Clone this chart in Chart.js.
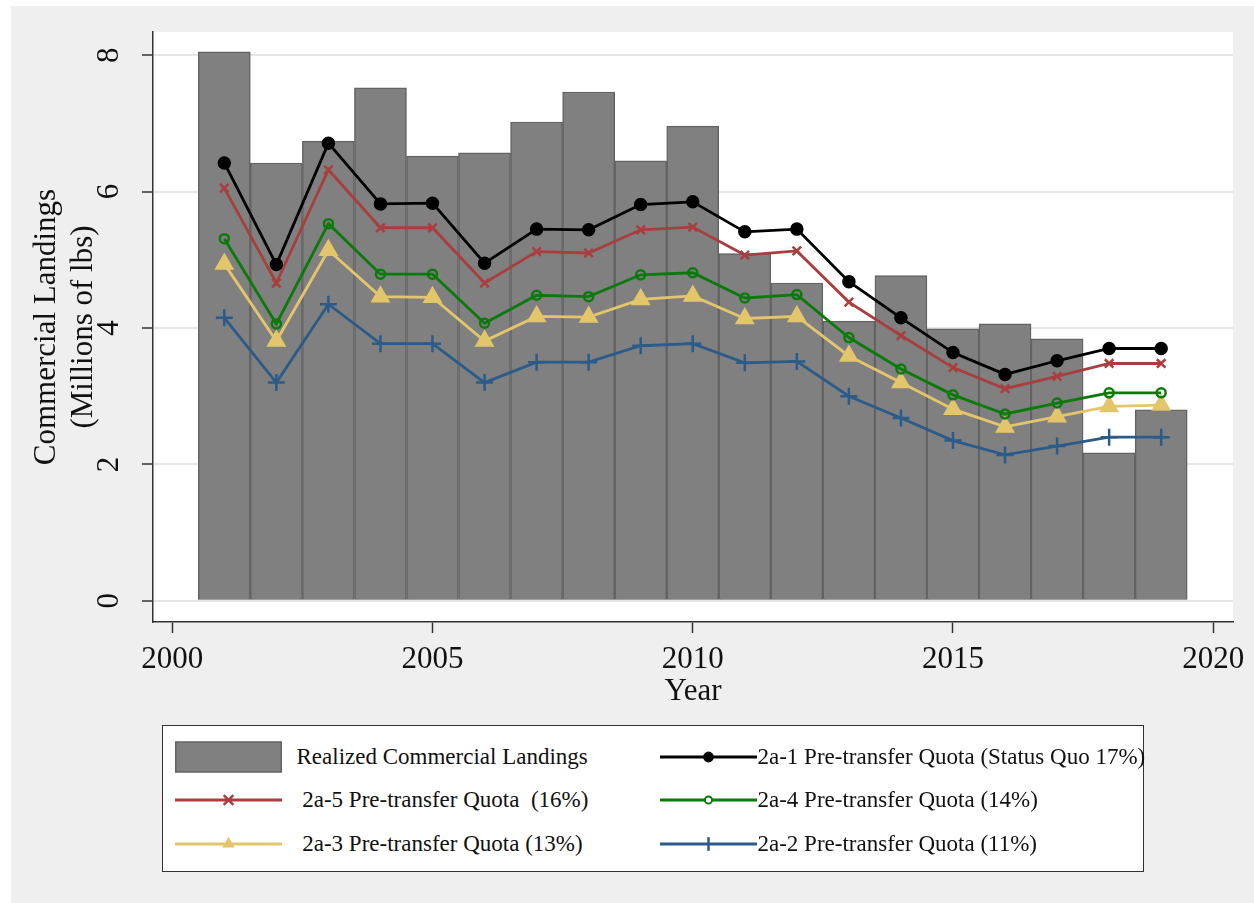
<!DOCTYPE html>
<html>
<head>
<meta charset="utf-8">
<script src="https://cdn.jsdelivr.net/npm/chart.js@4.4.1/dist/chart.umd.min.js"></script>
<style>
  body { margin: 0; background: #fff; }
  #wrap { position: relative; width: 1254px; height: 903px; }
  #grafico { position: absolute; left: 0; top: 0; }
  #legenda {
    position: absolute; left: 162px; top: 725px; width: 980px; height: 145px;
    border: 1.5px solid #333; background: #fff;
    font-family: "Liberation Serif", "Times New Roman", serif; font-size: 23px; color: #111;
  }
  .simb { position: absolute; height: 32px; }
  .txt { position: absolute; height: 32px; line-height: 32px; white-space: pre; }
</style>
</head>
<body>
<div id="wrap">
  <canvas id="grafico" width="1254" height="903"></canvas>
  <div id="legenda"></div>
</div>
<script>
//anos e valores
var anos = [2001, 2002, 2003, 2004, 2005, 2006, 2007, 2008, 2009, 2010,
            2011, 2012, 2013, 2014, 2015, 2016, 2017, 2018, 2019];

var desembarques = [8.05, 6.42, 6.74, 7.52, 6.52, 6.57, 7.02, 7.46, 6.45, 6.96,
                    5.09, 4.66, 4.10, 4.77, 3.99, 4.06, 3.84, 2.17, 2.80];

var quota17 = [6.42, 4.93, 6.71, 5.82, 5.83, 4.95, 5.45, 5.44, 5.81, 5.85,
               5.41, 5.45, 4.68, 4.15, 3.64, 3.32, 3.52, 3.70, 3.70];
var quota16 = [6.05, 4.66, 6.32, 5.47, 5.47, 4.66, 5.12, 5.10, 5.44, 5.48,
               5.07, 5.13, 4.38, 3.89, 3.42, 3.11, 3.29, 3.48, 3.48];
var quota14 = [5.31, 4.06, 5.53, 4.79, 4.79, 4.07, 4.48, 4.46, 4.78, 4.81,
               4.44, 4.49, 3.86, 3.40, 3.02, 2.74, 2.90, 3.05, 3.05];
var quota13 = [4.94, 3.81, 5.14, 4.46, 4.45, 3.81, 4.17, 4.16, 4.42, 4.47,
               4.14, 4.17, 3.59, 3.20, 2.81, 2.55, 2.70, 2.85, 2.87];
var quota11 = [4.15, 3.20, 4.35, 3.77, 3.77, 3.20, 3.50, 3.50, 3.74, 3.77,
               3.49, 3.51, 3.00, 2.68, 2.35, 2.14, 2.27, 2.40, 2.40];

var rotulos = [
  'Realized Commercial Landings',
  '2a-1 Pre-transfer Quota (Status Quo 17%)',
  ' 2a-5 Pre-transfer Quota  (16%)',
  '2a-4 Pre-transfer Quota (14%)',
  ' 2a-3 Pre-transfer Quota (13%)',
  '2a-2 Pre-transfer Quota (11%)'
];

var ticksX = [2000, 2005, 2010, 2015, 2020];
var ticksY = [0, 2, 4, 6, 8];

var fonte = '"Liberation Serif", "Times New Roman", serif';

function pontos(valores) {
  return anos.map(function (ano, i) { return { x: ano, y: valores[i] }; });
}

function linha(label, valores, cor, estilo, raio, fundo) {
  return {
    type: 'line',
    label: label,
    data: pontos(valores),
    borderColor: cor,
    backgroundColor: cor,
    borderWidth: 2.8,
    tension: 0,
    pointStyle: estilo,
    pointRadius: raio,
    pointBorderWidth: 2.5,
    pointBackgroundColor: fundo || cor,
    pointBorderColor: cor,
    order: 1
  };
}

var data = {
  datasets: [
    {
      type: 'bar',
      label: rotulos[0],
      data: pontos(desembarques),
      backgroundColor: '#808080',
      borderColor: '#636363',
      borderWidth: 1.5,
      barPercentage: 1,
      categoryPercentage: 1,
      order: 10
    },
    linha(rotulos[1], quota17, '#000000', 'circle', 5.5),
    linha(rotulos[2], quota16, '#a83e3e', 'crossRot', 6),
    linha(rotulos[3], quota14, '#0b7a0b', 'circle', 4.5, 'rgba(0,0,0,0)'),
    linha(rotulos[4], quota13, '#e3c66b', 'triangle', 9),
    linha(rotulos[5], quota11, '#2b5b88', 'cross', 8.5)
  ]
};

//fundo cinza e area do grafico branca
var fundo = {
  id: 'fundo',
  beforeDraw: function (chart) {
    var ctx = chart.ctx, a = chart.chartArea;
    ctx.save();
    ctx.fillStyle = '#ffffff';
    ctx.fillRect(0, 0, chart.width, chart.height);
    ctx.fillStyle = '#efefef';
    ctx.fillRect(11, 6, chart.width - 11, chart.height - 6);
    ctx.fillStyle = '#ffffff';
    ctx.fillRect(a.left, a.top, a.right - a.left, a.bottom - a.top);
    ctx.restore();
  }
};

//rotulos do eixo y girados como no original
var rotulosY = {
  id: 'rotulosY',
  afterDraw: function (chart) {
    var s = chart.scales.y, ctx = chart.ctx;
    ctx.save();
    ctx.font = '31px ' + fonte;
    ctx.fillStyle = '#111';
    ctx.textAlign = 'center';
    ctx.textBaseline = 'middle';
    s.ticks.forEach(function (t) {
      ctx.save();
      ctx.translate(110, s.getPixelForValue(t.value));
      ctx.rotate(-Math.PI / 2);
      ctx.fillText(String(t.value), 0, 0);
      ctx.restore();
    });
    ctx.restore();
  }
};

var options = {
  responsive: false,
  animation: false,
  layout: { padding: { left: 28, top: 32, right: 21, bottom: 193 } },
  plugins: { legend: { display: false }, tooltip: { enabled: false } },
  scales: {
    x: {
      type: 'linear',
      min: 1999.63,
      max: 2020.38,
      offset: false,
      afterBuildTicks: function (s) { s.ticks = ticksX.map(function (v) { return { value: v }; }); },
      afterFit: function (s) { s.height = 88; },
      grid: { drawOnChartArea: false, offset: false, tickLength: 11, tickWidth: 1.5, tickColor: '#333', color: '#333' },
      border: { color: '#333', width: 1.5 },
      ticks: {
        autoSkip: false, maxRotation: 0, padding: 8, color: '#111',
        font: { family: fonte, size: 31 },
        callback: function (v) { return String(v); }
      },
      title: { display: true, text: 'Year', color: '#111', padding: 0, font: { family: fonte, size: 31, lineHeight: 1.2 } }
    },
    y: {
      min: -0.31,
      max: 8.34,
      afterBuildTicks: function (s) { s.ticks = ticksY.map(function (v) { return { value: v }; }); },
      afterFit: function (s) { s.width = 125; },
      grid: { color: '#e6e6e6', lineWidth: 2, tickLength: 11, tickWidth: 1.5, tickColor: '#333' },
      border: { color: '#333', width: 1.5 },
      ticks: { display: false },
      title: {
        display: true, text: ['Commercial Landings', '(Millions of lbs)'], color: '#111', padding: 0,
        font: { family: fonte, size: 31, lineHeight: 1.2 }
      }
    }
  }
};

var ctx = document.querySelector('#grafico').getContext('2d');
var grafico = new Chart(ctx, {
  type: 'line',
  data: data,
  options: options,
  plugins: [fundo, rotulosY]
});

//legenda em html, duas colunas
function simbolo(ds, largura) {
  var h = 32, c = largura / 2, m = h / 2, cor = ds.borderColor, r = ds.pointRadius * 0.8;
  var s = '<svg width="' + largura + '" height="' + h + '">';
  if (ds.type === 'bar') {
    s += '<rect x="0.75" y="1" width="' + (largura - 1.5) + '" height="30" fill="' + ds.backgroundColor + '" stroke="' + cor + '" stroke-width="1.5"/>';
    return s + '</svg>';
  }
  s += '<line x1="0" y1="' + m + '" x2="' + largura + '" y2="' + m + '" stroke="' + cor + '" stroke-width="2.8"/>';
  if (ds.pointStyle === 'circle') {
    s += '<circle cx="' + c + '" cy="' + m + '" r="' + r + '" fill="' + (ds.pointBackgroundColor === cor ? cor : '#fff') + '" stroke="' + cor + '" stroke-width="2"/>';
  } else if (ds.pointStyle === 'crossRot') {
    s += '<path d="M' + (c - r) + ' ' + (m - r) + 'L' + (c + r) + ' ' + (m + r) + 'M' + (c + r) + ' ' + (m - r) + 'L' + (c - r) + ' ' + (m + r) + '" stroke="' + cor + '" stroke-width="2.5"/>';
  } else if (ds.pointStyle === 'triangle') {
    s += '<polygon points="' + c + ',' + (m - r) + ' ' + (c + r * 0.87) + ',' + (m + r * 0.5) + ' ' + (c - r * 0.87) + ',' + (m + r * 0.5) + '" fill="' + cor + '"/>';
  } else if (ds.pointStyle === 'cross') {
    s += '<line x1="' + c + '" y1="' + (m - r) + '" x2="' + c + '" y2="' + (m + r) + '" stroke="' + cor + '" stroke-width="2.5"/>';
  }
  return s + '</svg>';
}

var caixa = document.querySelector('#legenda');
var linhasY = [14.5, 58, 101.5];
var colunas = [{ simb: 11.5, larg: 107, txt: 133.5 }, { simb: 496.5, larg: 97, txt: 594.5 }];
grafico.data.datasets.forEach(function (ds, i) {
  var col = colunas[i % 2], top = linhasY[Math.floor(i / 2)];
  var sv = document.createElement('div');
  sv.className = 'simb';
  sv.style.left = col.simb + 'px';
  sv.style.top = top + 'px';
  sv.innerHTML = simbolo(ds, col.larg);
  caixa.appendChild(sv);
  var tx = document.createElement('div');
  tx.className = 'txt';
  tx.style.left = col.txt + 'px';
  tx.style.top = top + 'px';
  tx.textContent = ds.label;
  caixa.appendChild(tx);
});
</script>
</body>
</html>
